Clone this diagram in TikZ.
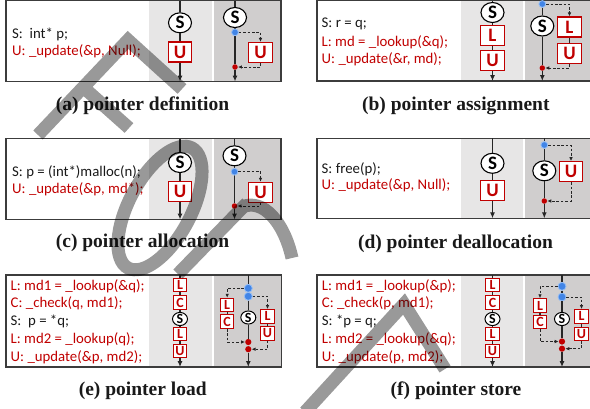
\documentclass[tikz,border=0pt]{standalone}
\usepackage{fontspec}
\newfontfamily\carl{Carlito}
\newfontfamily\capfont{Liberation Serif}
\usetikzlibrary{arrows.meta,shapes.geometric}
\definecolor{cred}{RGB}{192,0,0}
\definecolor{lgray}{RGB}{231,230,230}
\definecolor{dgray}{RGB}{208,206,206}
\definecolor{bfill}{RGB}{66,133,230}
\definecolor{bring}{RGB}{150,190,245}
\definecolor{frame}{RGB}{60,60,60}
\tikzset{
  code/.style={anchor=base west, inner sep=0pt, font=\carl\fontsize{14.8}{17}\selectfont, text=black!90},
  rcode/.style={code, text=cred},
  captxt/.style={anchor=base, inner sep=0pt, font=\capfont\bfseries\fontsize{19.5}{21}\selectfont, text=black!90},
  sbig/.style={ellipse, draw=black, line width=1.1pt, fill=white, minimum width=23pt, minimum height=20pt, inner sep=0pt, font=\carl\bfseries\fontsize{19}{19}\selectfont},
  bbig/.style={rectangle, draw=cred, line width=1.1pt, fill=white, minimum width=23.5pt, minimum height=20pt, inner sep=0pt, text=cred, font=\carl\bfseries\fontsize{19}{19}\selectfont},
  ssml/.style={ellipse, draw=black, line width=1pt, fill=white, minimum width=15pt, minimum height=12.5pt, inner sep=0pt, font=\carl\bfseries\fontsize{14}{14}\selectfont},
  bsml/.style={rectangle, draw=cred, line width=1pt, fill=white, minimum width=13.5pt, minimum height=13.5pt, inner sep=0pt, text=cred, font=\carl\bfseries\fontsize{14}{14}\selectfont},
  flow/.style={line width=1.1pt, draw=black!85},
  flowarr/.style={flow, -{Latex[length=6pt,width=5pt]}},
  dline/.style={line width=0.9pt, dash pattern=on 2.6pt off 1.8pt, draw=black!85},
  darr/.style={dline, -{Latex[length=4pt,width=3.6pt]}},
  bdot/.style={circle, fill=bfill, draw=bring, line width=0.8pt, minimum size=6.8pt, inner sep=0pt},
  bdotl/.style={bdot, minimum size=8pt},
  rdot/.style={circle, fill=cred, minimum size=5.5pt, inner sep=0pt},
  rdotl/.style={circle, fill=cred, minimum size=6.2pt, inner sep=0pt},
  frm/.style={draw=frame, line width=1.2pt},
}
\begin{document}
\begin{tikzpicture}[x=1pt,y=-1pt]
\useasboundingbox (0,0) rectangle (590,408);
\begin{scope}
\clip (0,0) rectangle (590,408);
% ---------- backgrounds ----------
\fill[lgray] (149,0.5) rectangle (212,81.5);
\fill[dgray] (213.5,0.5) rectangle (281,81.5);
\draw[frm] (6,0.5) rectangle (281,81.5);
\fill[lgray] (461,0.5) rectangle (522.5,81);
\fill[dgray] (524.5,0.5) rectangle (600,81);
\draw[frm] (317,0.5) rectangle (600,81);
\fill[lgray] (149,138.5) rectangle (212,219.5);
\fill[dgray] (213.5,138.5) rectangle (281,219.5);
\draw[frm] (6,138.5) rectangle (281,219.5);
\fill[lgray] (461,138.3) rectangle (522.5,218.3);
\fill[dgray] (524.5,138.3) rectangle (600,218.3);
\draw[frm] (317,138.3) rectangle (600,218.3);
\fill[lgray] (149,275) rectangle (212,367);
\fill[dgray] (213.5,275) rectangle (281.5,367);
\draw[frm] (6,275) rectangle (281.5,367);
\fill[lgray] (461,275) rectangle (522.5,367);
\fill[dgray] (524.5,275) rectangle (600,367);
\draw[frm] (317,275) rectangle (600,367);

% ---------- (a) ----------
\node[code] (at1) at (12,38) {S:\ \ int* p;};
\node[rcode] (at2) at (12,55) {U: \_update(\&p, Null);};
\coordinate (aT1) at (180,0.5); \coordinate (aB1) at (180,81.5);
\node[sbig] (aS1) at (180,22.8) {S};
\node[bbig] (aU1) at (180,52) {U};
\draw[flow] (aT1) -- (aS1); \draw[flow] (aS1) -- (aU1); \draw[flowarr] (aU1) -- (aB1);
\coordinate (aT2) at (235,0.5); \coordinate (aB2) at (235,81.5);
\node[sbig] (aS2) at (235,17.5) {S};
\node[bbig] (aU2) at (260.5,52.5) {U};
\node[rdot] (aR2) at (235,67) {};
\draw[flow] (aT2) -- (aS2); \draw[flow] (aS2) -- (aR2); \draw[flowarr] (aR2) -- (aB2);
\node[bdot] (aP2) at (235,32.3) {};
\draw[darr] (aP2) -| (aU2.north);
\draw[darr] (aU2.south) |- (aR2);
\node[captxt] (acap) at (142.5,110.7) {(a) pointer definition};

% ---------- (b) ----------
\node[code] (bt1) at (321.5,27.5) {S: r = q;};
\node[rcode] (bt2) at (321.5,46) {L: md = \_lookup(\&q);};
\node[rcode] (bt3) at (321.5,63.5) {U: \_update(\&r, md);};
\coordinate (bT1) at (492.5,0.5); \coordinate (bB1) at (492.5,81);
\node[sbig] (bS1) at (492.5,12.5) {S};
\node[bbig] (bL1) at (492.5,35.5) {L};
\node[bbig] (bU1) at (492.5,60.5) {U};
\draw[flow] (bT1) -- (bS1); \draw[flow] (bS1) -- (bL1); \draw[flow] (bL1) -- (bU1); \draw[flowarr] (bU1) -- (bB1);
\coordinate (bB2) at (542.3,81);
\node[sbig] (bS2) at (542.3,26) {S};
\node[bbig] (bL2) at (569.5,27) {L};
\node[bbig] (bU2) at (569.5,53.7) {U};
\node[rdot] (bR2) at (542.3,68) {};
\node[bdot] (bP2) at (542.3,4) {};
\draw[flow] (bP2) -- (bS2); \draw[flow] (bS2) -- (bR2); \draw[flowarr] (bR2) -- (bB2);
\draw[darr] (bP2) -| (bL2.north);
\draw[flow] (bL2) -- (bU2);
\draw[darr] (bU2.south) |- (bR2);
\node[captxt] (bcap) at (455.8,110.3) {(b) pointer assignment};

% ---------- (c) ----------
\node[code] (ct1) at (12,176.5) {S: p = (int*)malloc(n);};
\node[rcode] (ct2) at (12,193) {U: \_update(\&p, md*);};
\coordinate (cT1) at (180,138.5); \coordinate (cB1) at (180,219.5);
\node[sbig] (cS1) at (180,162.5) {S};
\node[bbig] (cU1) at (180,191.3) {U};
\draw[flow] (cT1) -- (cS1); \draw[flow] (cS1) -- (cU1); \draw[flowarr] (cU1) -- (cB1);
\coordinate (cT2) at (234.5,138.5); \coordinate (cB2) at (234.5,219.5);
\node[sbig] (cS2) at (234.5,155.8) {S};
\node[bbig] (cU2) at (260.5,192.3) {U};
\node[rdot] (cR2) at (234.5,206) {};
\draw[flow] (cT2) -- (cS2); \draw[flow] (cS2) -- (cR2); \draw[flowarr] (cR2) -- (cB2);
\node[bdot] (cP2) at (234.5,171.7) {};
\draw[darr] (cP2) -| (cU2.north);
\draw[darr] (cU2.south) |- (cR2);
\node[captxt] (ccap) at (142.5,247.8) {(c) pointer allocation};

% ---------- (d) ----------
\node[code] (dt1) at (321.5,173.7) {S: free(p);};
\node[rcode] (dt2) at (321.5,189.7) {U: \_update(\&p, Null);};
\coordinate (dT1) at (492.5,138.3); \coordinate (dB1) at (492.5,218.3);
\node[sbig] (dS1) at (492.5,163.3) {S};
\node[bbig] (dU1) at (492.5,190.3) {U};
\draw[flow] (dT1) -- (dS1); \draw[flow] (dS1) -- (dU1); \draw[flowarr] (dU1) -- (dB1);
\coordinate (dT2) at (544.3,138.3); \coordinate (dB2) at (544.3,218.3);
\node[sbig] (dS2) at (544.3,170.8) {S};
\node[bbig] (dU2) at (571,171.7) {U};
\node[rdot] (dR2) at (544.3,201) {};
\node[bdot] (dP2) at (544.3,145) {};
\draw[flow] (dT2) -- (dP2); \draw[flow] (dP2) -- (dS2); \draw[flow] (dS2) -- (dR2); \draw[flowarr] (dR2) -- (dB2);
\draw[darr] (dP2) -| (dU2.north);
\draw[darr] (dU2.south) |- (dR2);
\node[captxt] (dcap) at (455.5,248.3) {(d) pointer deallocation};

% ---------- (e) ----------
\node[rcode] (et1) at (10.5,290) {L: md1 = \_lookup(\&q);};
\node[rcode] (et2) at (10.5,307.8) {C: \_check(q, md1);};
\node[code]  (et3) at (10.5,325.6) {S:\ \ p = *q;};
\node[rcode] (et4) at (10.5,343.4) {L: md2 = \_lookup(q);};
\node[rcode] (et5) at (10.5,361.2) {U: \_update(\&p, md2);};
\coordinate (eT1) at (180,275); \coordinate (eB1) at (180,367);
\node[bsml] (eL1) at (180,285) {L};
\node[bsml] (eC1) at (180,302.7) {C};
\node[ssml] (eS1) at (180,319) {S};
\node[bsml] (eM1) at (180,333.8) {L};
\node[bsml] (eU1) at (180,350.8) {U};
\draw[flow] (eT1) -- (eL1); \draw[flow] (eL1) -- (eC1); \draw[flow] (eC1) -- (eS1);
\draw[flow] (eS1) -- (eM1); \draw[flow] (eM1) -- (eU1); \draw[flowarr] (eU1) -- (eB1);
\coordinate (eT2) at (248.3,275); \coordinate (eB2) at (248.3,367);
\node[ssml] (eS2) at (248.3,317.5) {S};
\node[bsml] (eL2) at (227.2,305) {L};
\node[bsml] (eC2) at (227.2,321.7) {C};
\node[bsml] (eM2) at (267.5,316.3) {L};
\node[bsml] (eU2) at (267.5,333.5) {U};
\node[rdotl] (eR2) at (248.3,342) {};
\node[rdotl] (eQ2) at (248.3,349.2) {};
\node[bdotl] (eP2) at (248.3,288.3) {};
\node[bdotl] (eO2) at (248.3,296.3) {};
\draw[flow] (eT2) -- (eP2); \draw[flow] (eO2) -- (eS2); \draw[flow] (eS2) -- (eR2);
\draw[flowarr] (eQ2) -- (eB2);
\draw[darr] (eP2) -| (eL2.north);
\draw[flow] (eL2) -- (eC2);
\draw[darr] (eC2.south) |- (eR2);
\draw[darr] (eO2) -| (eM2.north);
\draw[flow] (eM2) -- (eU2);
\draw[darr] (eU2.south) |- (eQ2);
\node[captxt] (ecap) at (142.7,395) {(e) pointer load};

% ---------- (f) ----------
\node[rcode] (ft1) at (321.7,290) {L: md1 = \_lookup(\&p);};
\node[rcode] (ft2) at (321.7,307.8) {C: \_check(p, md1);};
\node[code]  (ft3) at (321.7,325.6) {S: *p = q;};
\node[rcode] (ft4) at (321.7,343.4) {L: md2 = \_lookup(\&q);};
\node[rcode] (ft5) at (321.7,361.2) {U: \_update(p, md2);};
\coordinate (fT1) at (492.5,275); \coordinate (fB1) at (492.5,367);
\node[bsml] (fL1) at (492.5,285) {L};
\node[bsml] (fC1) at (492.5,302.7) {C};
\node[ssml] (fS1) at (492.5,319) {S};
\node[bsml] (fM1) at (492.5,333.8) {L};
\node[bsml] (fU1) at (492.5,350.8) {U};
\draw[flow] (fT1) -- (fL1); \draw[flow] (fL1) -- (fC1); \draw[flow] (fC1) -- (fS1);
\draw[flow] (fS1) -- (fM1); \draw[flow] (fM1) -- (fU1); \draw[flowarr] (fU1) -- (fB1);
\coordinate (fT2) at (562,275); \coordinate (fB2) at (562,367);
\node[ssml] (fS2) at (562,319) {S};
\node[bsml] (fL2) at (540,305.5) {L};
\node[bsml] (fC2) at (540,322.2) {C};
\node[bsml] (fM2) at (581.5,316.3) {L};
\node[bsml] (fU2) at (581.5,333.8) {U};
\node[rdotl] (fR2) at (562,341.5) {};
\node[rdotl] (fQ2) at (562,348.7) {};
\node[bdotl] (fP2) at (562,286.3) {};
\node[bdotl] (fO2) at (562,297) {};
\draw[flow] (fT2) -- (fP2); \draw[flow] (fP2) -- (fO2); \draw[flow] (fO2) -- (fS2); \draw[flow] (fS2) -- (fR2);
\draw[flowarr] (fQ2) -- (fB2);
\draw[darr] (fP2) -| (fL2.north);
\draw[flow] (fL2) -- (fC2);
\draw[darr] (fC2.south) |- (fR2);
\draw[darr] (fO2) -| (fM2.north);
\draw[flow] (fM2) -- (fU2);
\draw[darr] (fU2.south) |- (fQ2);
\node[captxt] (fcap) at (456,395) {(f) pointer store};

% ---------- watermark ----------
\draw[line width=13pt, draw=black, draw opacity=0.4, line join=miter, line cap=butt]
  (38,135) -- (128,40) -- (182,89)
  (83,87) -- (129,128)
  (178,274) -- (247,203)
  (242,207) .. controls (263,198) and (284,222) .. (292,258)
  (305,412) -- (404,304) -- (445,369)
  [rotate around={62:(160,208)}] (160,208) ellipse [x radius=68pt, y radius=31pt];
\end{scope}
\end{tikzpicture}
\end{document}
